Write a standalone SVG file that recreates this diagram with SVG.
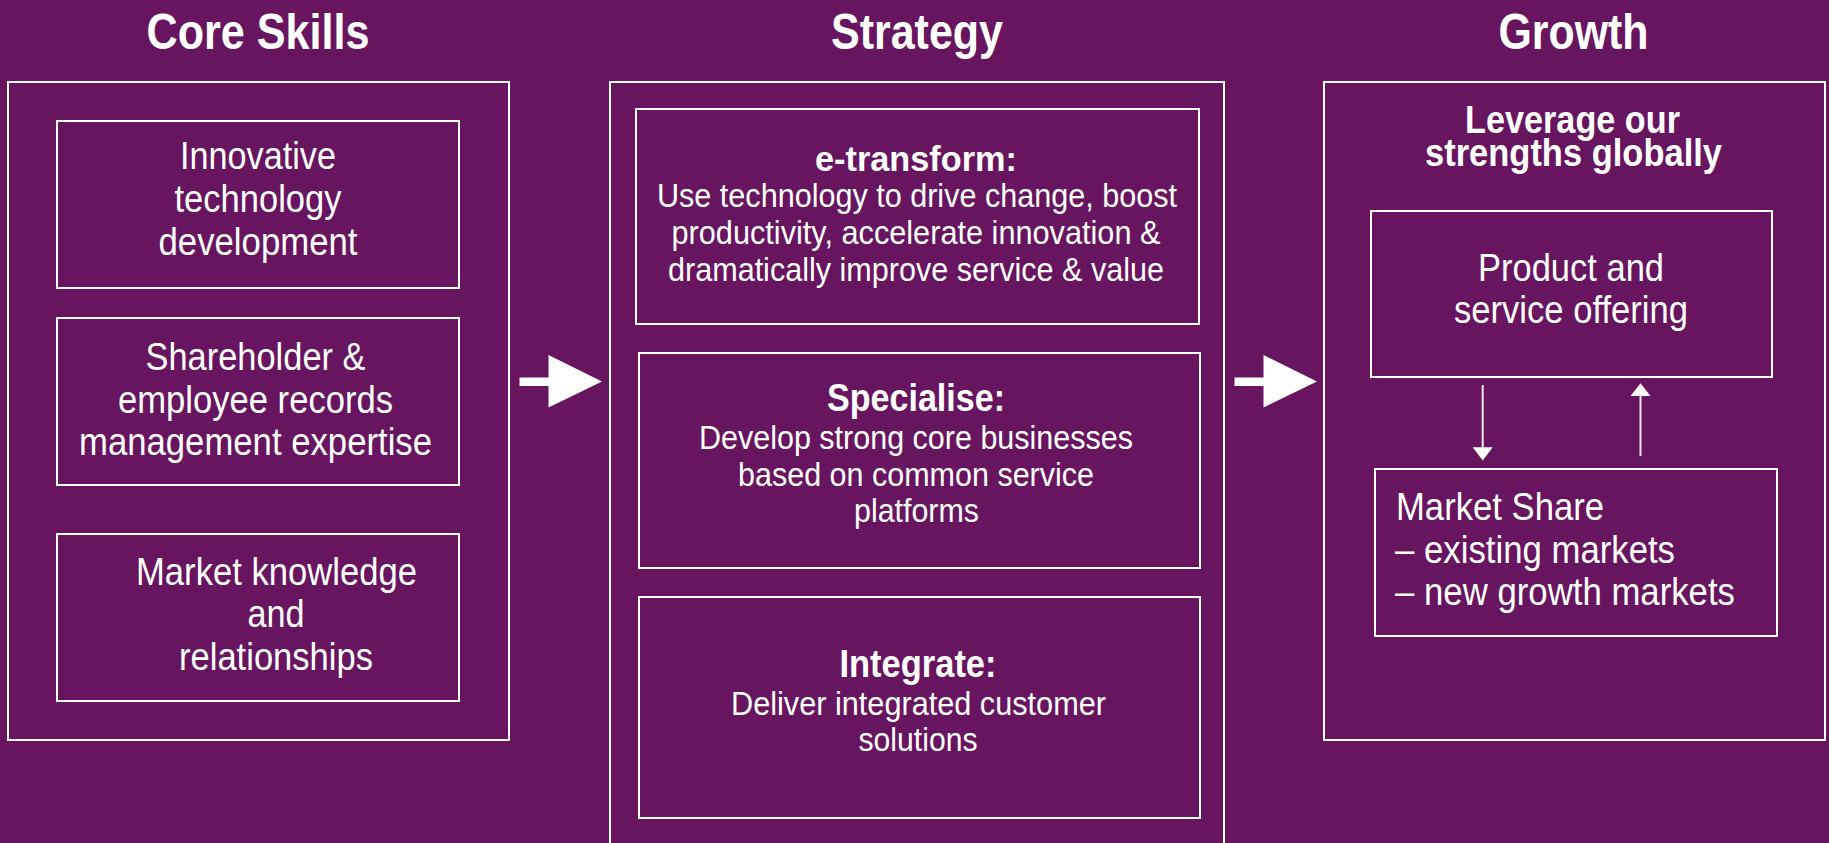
<svg xmlns="http://www.w3.org/2000/svg" width="1829" height="843" viewBox="0 0 1829 843">
<style>
.bg{fill:#681560}
.box{fill:none;stroke:#ffffff;stroke-width:2}
.t{fill:#ffffff;font-family:"Liberation Sans",Arial,sans-serif}
.ttl{font-weight:bold;font-size:50px;text-anchor:middle}
.b38{font-size:38px;text-anchor:middle}
.b32{font-size:34px;text-anchor:middle}
.h{font-weight:bold;text-anchor:middle}
.l38{font-size:38px;text-anchor:start}
.big{fill:#ffffff}
.thin{stroke:#f4e8f2;stroke-width:2;fill:none}
.head{fill:#ffffff}
</style>
<rect class="bg" x="0" y="0" width="1829" height="843"/>

<g id="title-core"><text class="t ttl" x="258" y="49" textLength="223" lengthAdjust="spacingAndGlyphs">Core Skills</text></g>
<g id="title-strategy"><text class="t ttl" x="917" y="48.5" textLength="172" lengthAdjust="spacingAndGlyphs">Strategy</text></g>
<g id="title-growth"><text class="t ttl" x="1573.5" y="48.5" textLength="150" lengthAdjust="spacingAndGlyphs">Growth</text></g>

<g id="core-skills">
<rect class="box" x="8" y="82" width="501" height="658"/>
</g>
<g id="innovative">
<rect class="box" x="57" y="121" width="402" height="167"/>
<text class="t b38" x="258" y="169" textLength="156" lengthAdjust="spacingAndGlyphs">Innovative</text>
<text class="t b38" x="258" y="212" textLength="167" lengthAdjust="spacingAndGlyphs">technology</text>
<text class="t b38" x="258" y="255" textLength="199" lengthAdjust="spacingAndGlyphs">development</text>
</g>
<g id="shareholder">
<rect class="box" x="57" y="318" width="402" height="167"/>
<text class="t b38" x="255.5" y="370" textLength="220" lengthAdjust="spacingAndGlyphs">Shareholder &amp;</text>
<text class="t b38" x="255.5" y="412.5" textLength="275" lengthAdjust="spacingAndGlyphs">employee records</text>
<text class="t b38" x="255.5" y="455" textLength="353" lengthAdjust="spacingAndGlyphs">management expertise</text>
</g>
<g id="market-knowledge">
<rect class="box" x="57" y="534" width="402" height="167"/>
<text class="t b38" x="276.5" y="585" textLength="281" lengthAdjust="spacingAndGlyphs">Market knowledge</text>
<text class="t b38" x="276" y="627" textLength="57" lengthAdjust="spacingAndGlyphs">and</text>
<text class="t b38" x="276" y="670" textLength="194" lengthAdjust="spacingAndGlyphs">relationships</text>
</g>

<g id="strategy">
<rect class="box" x="610" y="82" width="614" height="780"/>
</g>
<g id="e-transform">
<rect class="box" x="636" y="109" width="563" height="215"/>
<text class="t h" style="font-size:35px" x="916" y="170.5" textLength="202" lengthAdjust="spacingAndGlyphs">e-transform:</text>
<text class="t b32" x="917" y="207" textLength="520" lengthAdjust="spacingAndGlyphs">Use technology to drive change, boost</text>
<text class="t b32" x="916" y="244" textLength="489" lengthAdjust="spacingAndGlyphs">productivity, accelerate innovation &amp;</text>
<text class="t b32" x="916" y="281" textLength="496" lengthAdjust="spacingAndGlyphs">dramatically improve service &amp; value</text>
</g>
<g id="specialise">
<rect class="box" x="639" y="353" width="561" height="215"/>
<text class="t h" style="font-size:38px" x="916" y="411" textLength="178" lengthAdjust="spacingAndGlyphs">Specialise:</text>
<text class="t b32" x="916" y="449" textLength="434" lengthAdjust="spacingAndGlyphs">Develop strong core businesses</text>
<text class="t b32" x="916" y="486" textLength="356" lengthAdjust="spacingAndGlyphs">based on common service</text>
<text class="t b32" x="916.5" y="522" textLength="125" lengthAdjust="spacingAndGlyphs">platforms</text>
</g>
<g id="integrate">
<rect class="box" x="639" y="597" width="561" height="221"/>
<text class="t h" style="font-size:39px" x="918" y="677" textLength="157" lengthAdjust="spacingAndGlyphs">Integrate:</text>
<text class="t b32" x="918.5" y="715" textLength="375" lengthAdjust="spacingAndGlyphs">Deliver integrated customer</text>
<text class="t b32" x="918" y="751" textLength="119" lengthAdjust="spacingAndGlyphs">solutions</text>
</g>

<g id="growth">
<rect class="box" x="1324" y="82" width="501" height="658"/>
<text class="t h" style="font-size:39px" x="1572.5" y="133" textLength="215" lengthAdjust="spacingAndGlyphs">Leverage our</text>
<text class="t h" style="font-size:39px" x="1573.5" y="165.5" textLength="297" lengthAdjust="spacingAndGlyphs">strengths globally</text>
</g>
<g id="product">
<rect class="box" x="1371" y="211" width="401" height="166"/>
<text class="t b38" x="1571" y="281" textLength="186" lengthAdjust="spacingAndGlyphs">Product and</text>
<text class="t b38" x="1571" y="323" textLength="234" lengthAdjust="spacingAndGlyphs">service offering</text>
</g>
<g id="market-share">
<rect class="box" x="1375" y="469" width="402" height="167"/>
<text class="t l38" x="1396" y="520" textLength="208" lengthAdjust="spacingAndGlyphs">Market Share</text>
<text class="t l38" x="1395" y="562.7" textLength="280" lengthAdjust="spacingAndGlyphs">– existing markets</text>
<text class="t l38" x="1395" y="605" textLength="340" lengthAdjust="spacingAndGlyphs">– new growth markets</text>
</g>

<g id="connectors">
<polygon class="big" points="519.5,377.5 548.5,377.5 548.5,355 602,381.5 548.5,407.5 548.5,386 519.5,386"/>
<polygon class="big" points="1234.5,377.5 1263.5,377.5 1263.5,355 1317,381.5 1263.5,407.5 1263.5,386 1234.5,386"/>
<line class="thin" x1="1482.7" y1="385" x2="1482.7" y2="448"/>
<polygon class="head" points="1472.7,447.3 1492.7,447.3 1482.7,460.5"/>
<line class="thin" x1="1640.5" y1="456" x2="1640.5" y2="395"/>
<polygon class="head" points="1630.5,396 1650.5,396 1640.5,383.3"/>
</g>
</svg>
